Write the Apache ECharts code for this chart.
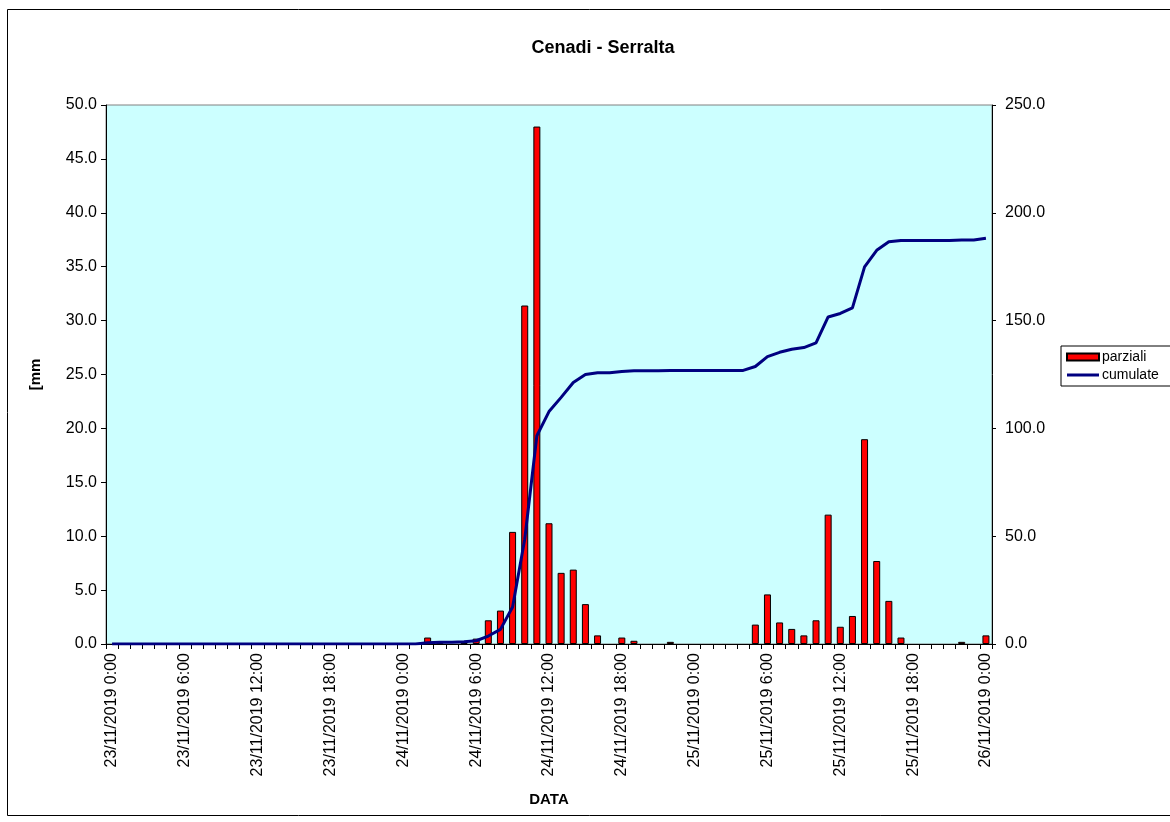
<!DOCTYPE html>
<html>
<head>
<meta charset="utf-8">
<script src="https://cdn.jsdelivr.net/npm/echarts@6/dist/echarts.min.js"></script>
<style>html,body{margin:0;padding:0;background:#fff;}#c{width:1170px;height:822px;}</style>
</head>
<body>
<div id="c"></div>
<script>
// Categories: hourly from 23/11/2019 0:00 to 26/11/2019 0:00
const days = ['23/11/2019', '24/11/2019', '25/11/2019', '26/11/2019'];
const categories = [];
for (let d = 0; d < 4; d++) {
  for (let h = 0; h < 24; h++) {
    if (d === 3 && h > 0) break;
    categories.push(days[d] + ' ' + h + ':00');
  }
}

// Partial rainfall [mm] per hour
const parziali = [
  0,0,0,0,0,0,0,0,0,0,0,0,0,0,0,0,0,0,0,0,0,0,0,0,
  0,0,0.6,0.2,0,0.2,0.5,2.2,3.1,10.4,31.4,48.0,11.2,6.6,6.9,3.7,0.8,0,0.6,0.3,0,0,0.2,0,
  0,0,0,0,0,1.8,4.6,2.0,1.4,0.8,2.2,12.0,1.6,2.6,19.0,7.7,4.0,0.6,0,0,0,0,0.2,0,
  0.8
];

// Cumulative rainfall [mm]
const cumulate = [
  0,0,0,0,0,0,0,0,0,0,0,0,0,0,0,0,0,0,0,0,0,0,0,0,
  0,0,0.6,0.8,0.8,1.0,1.5,3.7,6.8,17.2,48.6,96.6,107.8,114.4,121.3,125.0,125.8,125.8,126.4,126.7,126.7,126.7,126.9,126.9,
  126.9,126.9,126.9,126.9,126.9,128.7,133.3,135.3,136.7,137.5,139.7,151.7,153.3,155.9,174.9,182.6,186.6,187.2,187.2,187.2,187.2,187.2,187.4,187.4,
  188.2
];

const titleText = 'Cenadi - Serralta';
const FONT = '"Liberation Sans", Arial, sans-serif';

const chart = echarts.init(document.getElementById('c'), null, {renderer: 'canvas'});
chart.setOption({
  animation: false,
  backgroundColor: '#ffffff',
  graphic: [{
    type: 'rect', silent: true, z: -10,
    shape: {x: 7.5, y: 9.5, width: 1200, height: 806},
    style: {fill: 'none', stroke: '#000', lineWidth: 1}
  }],
  title: {
    text: titleText, left: 598, top: 34, textAlign: 'center',
    textStyle: {fontFamily: FONT, fontWeight: 'bold', fontSize: 18, color: '#000'}
  },
  legend: {
    left: 1061, top: 346, orient: 'vertical',
    backgroundColor: '#fff', borderColor: '#000', borderWidth: 1,
    padding: [4, 60, 4, 5], itemGap: 4, itemWidth: 32, itemHeight: 7,
    textStyle: {fontFamily: FONT, fontSize: 14, color: '#000', padding: [0,0,0,-2]},
    data: [
      {name: 'parziali', icon: 'rect'},
      {name: 'cumulate', icon: 'path://M0,0 L32,0 L32,3 L0,3 Z', itemStyle: {color: '#000080', borderWidth: 0}}
    ]
  },
  grid: {
    left: 106, right: 178, top: 105, bottom: 178,
    show: true, backgroundColor: '#CCFFFF', borderColor: '#808080', borderWidth: 1
  },
  xAxis: {
    type: 'category', data: categories, boundaryGap: true,
    name: 'DATA', nameLocation: 'middle', nameGap: 148,
    nameTextStyle: {fontFamily: FONT, fontWeight: 'bold', fontSize: 15, color: '#000'},
    axisLine: {lineStyle: {color: '#000', width: 1}},
    axisTick: {show: true, interval: 0, length: 5, lineStyle: {color: '#000'}},
    axisLabel: {interval: 5, rotate: 90, margin: 9, fontFamily: FONT, fontSize: 16, color: '#000'},
    splitLine: {show: false}
  },
  yAxis: [{
    type: 'value', min: 0, max: 50, interval: 5, position: 'left',
    name: '[mm', nameLocation: 'middle', nameRotate: 90, nameGap: 63,
    nameTextStyle: {fontFamily: FONT, fontWeight: 'bold', fontSize: 15, color: '#000'},
    axisLine: {show: true, lineStyle: {color: '#000'}},
    axisTick: {show: true, length: 5, lineStyle: {color: '#000'}},
    axisLabel: {formatter: v => v.toFixed(1), margin: 9, fontFamily: FONT, fontSize: 16, color: '#000'},
    splitLine: {show: false}
  }, {
    type: 'value', min: 0, max: 250, interval: 50, position: 'right',
    axisLine: {show: true, lineStyle: {color: '#000'}},
    axisTick: {show: true, length: 4, lineStyle: {color: '#000'}},
    axisLabel: {formatter: v => v.toFixed(1), margin: 13, fontFamily: FONT, fontSize: 16, color: '#000'},
    splitLine: {show: false}
  }],
  series: [{
    name: 'parziali', type: 'bar', yAxisIndex: 0,
    data: parziali.map(v => (v === 0 ? null : v)),
    barWidth: 7,
    itemStyle: {color: '#FF0000', borderColor: '#000', borderWidth: 1}
  }, {
    name: 'cumulate', type: 'line', yAxisIndex: 1, data: cumulate,
    symbol: 'none', showSymbol: false,
    lineStyle: {color: '#000080', width: 3},
    itemStyle: {color: '#000080'}
  }]
});
</script>
</body>
</html>
